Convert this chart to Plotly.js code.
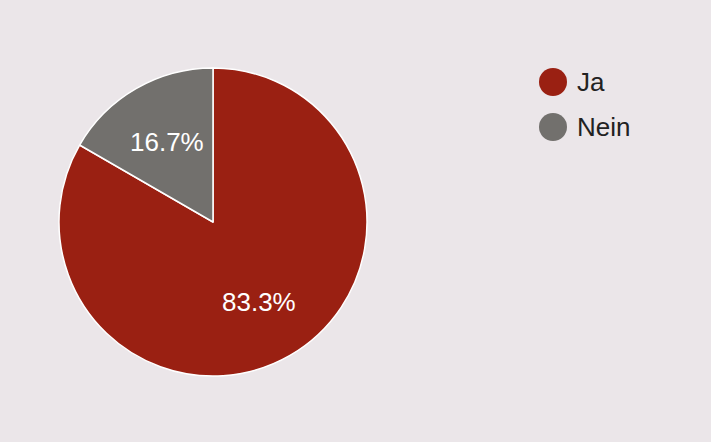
<!DOCTYPE html>
<html>
<head>
<meta charset="utf-8">
<script src="https://cdn.plot.ly/plotly-3.0.1.min.js"></script>
<style>html,body{margin:0;padding:0;background:#ebe6e9;}</style>
</head>
<body>
<div id="chart" style="width:711px;height:442px;"></div>
<script>
const labels = ["Ja", "Nein"];
const values = [5, 1];
const colors = ["#9a2012", "#72706d"];

const bg = "#ebe6e9";
const font = "Arial, 'Liberation Sans', sans-serif";
const W = 711, H = 442;
const cx = 213, cy = 222, R = 154;

const pie = {
  type: "pie",
  labels: labels,
  values: values,
  sort: false,
  direction: "clockwise",
  rotation: 0,
  marker: {colors: colors, line: {color: "#ffffff", width: 1.5}},
  textinfo: "none",
  hoverinfo: "label+percent",
  showlegend: false,
  domain: {x: [(cx - R) / W, (cx + R) / W], y: [1 - (cy + R) / H, 1 - (cy - R) / H]}
};

const shapes = [];
const annotations = [];

// Percent labels placed from the data (mid-angle of each slice)
const total = values.reduce((a, b) => a + b, 0);
let cum = 0;
values.forEach((v, i) => {
  const th = 2 * Math.PI * (cum + v / 2) / total;
  cum += v;
  const px = cx + 0.6 * R * Math.sin(th);
  const py = cy - 0.6 * R * Math.cos(th);
  annotations.push({
    xref: "paper", yref: "paper", x: px / W, y: 1 - py / H,
    xanchor: "center", yanchor: "middle", showarrow: false,
    text: (100 * v / total).toFixed(1) + "%",
    font: {family: font, size: 26, color: "#ffffff"}
  });
});

// Legend drawn from labels/colors
const legX = 553 / W;
labels.forEach((lab, i) => {
  const ly = 1 - (82 + i * 45) / H;
  shapes.push({
    type: "circle", xref: "paper", yref: "paper",
    xsizemode: "pixel", ysizemode: "pixel",
    xanchor: legX, yanchor: ly,
    x0: -14, x1: 14, y0: -14, y1: 14,
    fillcolor: colors[i], line: {width: 0}
  });
  annotations.push({
    xref: "paper", yref: "paper", x: 575 / W, y: ly,
    xanchor: "left", yanchor: "middle", showarrow: false,
    text: lab, font: {family: font, size: 26, color: "#222222"}
  });
});

Plotly.newPlot("chart", [pie], {
  width: W, height: H,
  margin: {l: 0, r: 0, t: 0, b: 0},
  paper_bgcolor: bg, plot_bgcolor: bg,
  shapes: shapes, annotations: annotations
}, {displayModeBar: false, staticPlot: true});
</script>
</body>
</html>
